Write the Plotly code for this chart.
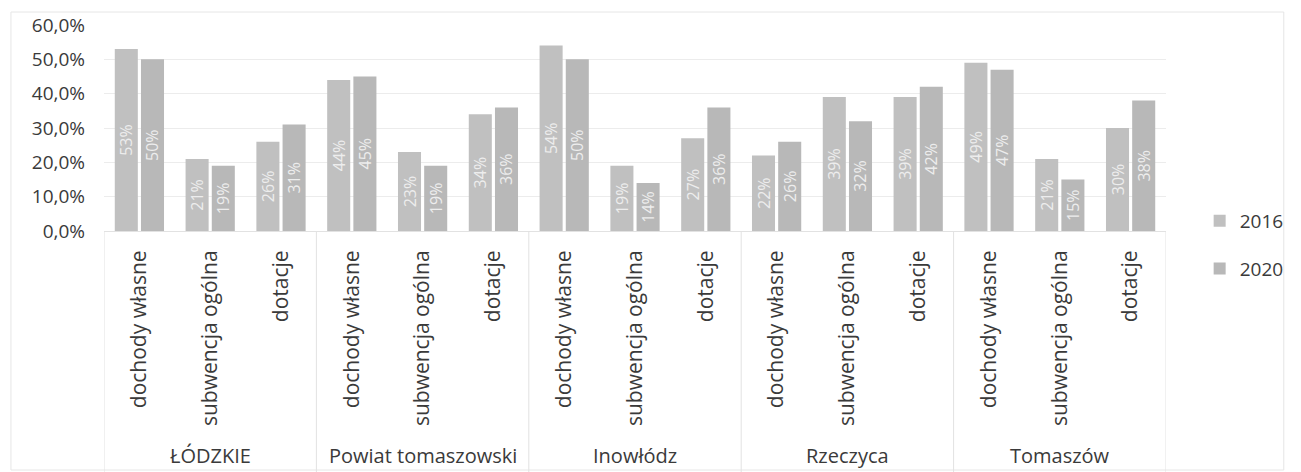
import plotly.graph_objects as go

groups = ["ŁÓDZKIE", "Powiat tomaszowski", "Inowłódz", "Rzeczyca", "Tomaszów"]
subcats = ["dochody własne", "subwencja ogólna", "dotacje"]
y_ticks = [0, 10, 20, 30, 40, 50, 60]
y_tick_labels = ["0,0%", "10,0%", "20,0%", "30,0%", "40,0%", "50,0%", "60,0%"]

values_2016 = [53, 21, 26, 44, 23, 34, 54, 19, 27, 22, 39, 39, 49, 21, 30]
values_2020 = [50, 19, 31, 45, 19, 36, 50, 14, 36, 26, 32, 42, 47, 15, 38]

n_sub = len(subcats)
x_pos = list(range(len(groups) * n_sub))
tick_text = [subcats[i % n_sub] for i in x_pos]

FONT = "Open Sans"
TXT = "#3a3a3a"

fig = go.Figure()
for name, vals, col in [("2016", values_2016, "#c0c0c0"), ("2020", values_2020, "#b8b8b8")]:
    fig.add_trace(go.Bar(
        x=x_pos, y=vals, name=name, legendgroup=name,
        marker=dict(color=col, line=dict(width=0)),
        texttemplate="%{y:.0f}%", textposition="inside", insidetextanchor="middle",
        textangle=-90, textfont=dict(color="#ededed", size=16, family=FONT),
        cliponaxis=False,
    ))

top_px, zero_px, left_px, right_px = 25, 231, 104, 1177
H = zero_px - top_px

def py(px):
    return (zero_px - px) / H

def pxx(px):
    return (px - left_px) / (right_px - left_px)

shapes = []
shapes.append(dict(type="rect", xref="paper", yref="paper",
                   x0=pxx(10), x1=pxx(1296), y0=py(470), y1=py(12),
                   line=dict(color="#e6e6e6", width=1), layer="below"))
for g in range(len(groups) + 1):
    shapes.append(dict(type="line", xref="x", yref="paper",
                       x0=g * n_sub - 0.5, x1=g * n_sub - 0.5, y0=0, y1=py(472),
                       line=dict(color="#e2e2e2", width=1)))

annotations = []
for g, name in enumerate(groups):
    annotations.append(dict(x=g * n_sub + (n_sub - 1) / 2, xref="x", y=py(455), yref="paper",
                            text=name, showarrow=False, xanchor="center", yanchor="middle",
                            font=dict(size=20, color=TXT, family=FONT)))

fig.update_layout(
    width=1301, height=472,
    margin=dict(l=left_px, r=1301 - right_px, t=top_px, b=472 - zero_px),
    paper_bgcolor="white", plot_bgcolor="white",
    separators=", ",
    barmode="group", bargap=0.26, bargroupgap=0.12,
    uniformtext=dict(minsize=15, mode="show"),
    font=dict(family=FONT, color=TXT),
    shapes=shapes, annotations=annotations,
    showlegend=True,
    legend=dict(x=pxx(1211), xanchor="left", y=py(202), yanchor="top",
                font=dict(size=19, color=TXT, family=FONT),
                traceorder="grouped", tracegroupgap=20,
                bgcolor="rgba(0,0,0,0)", itemwidth=30),
)
fig.update_xaxes(
    range=[-0.5, len(x_pos) - 0.5], tickmode="array", tickvals=x_pos, ticktext=tick_text,
    tickangle=-90, tickfont=dict(size=21, color=TXT, family=FONT),
    showline=True, linecolor="#e2e2e2", linewidth=1, ticks="", showgrid=False,
    ticklabelstandoff=10, zeroline=False,
)
fig.update_yaxes(
    range=[0, 60], tickmode="array", tickvals=y_ticks, ticktext=y_tick_labels,
    tickfont=dict(size=19, color=TXT, family=FONT),
    showgrid=True, gridcolor="#ececec", gridwidth=1, zeroline=False, showline=False,
    ticks="", ticklabelstandoff=18,
)

fig.write_html("out.html", config={"displayModeBar": False},
               post_script="document.body.style.margin='0';")
